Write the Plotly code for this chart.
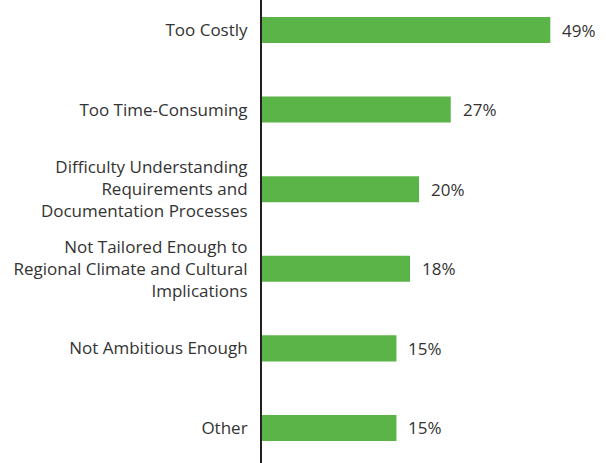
import plotly.graph_objects as go

categories = [
    "Too Costly",
    "Too Time-Consuming",
    "Difficulty Understanding<br>Requirements and<br>Documentation Processes",
    "Not Tailored Enough to<br>Regional Climate and Cultural<br>Implications",
    "Not Ambitious Enough",
    "Other",
]
values = [49, 27, 20, 18, 15, 15]
value_labels = ["49%", "27%", "20%", "18%", "15%", "15%"]

AXIS_START = -14.7
AXIS_END = 61.3
BAR_COLOR = "#5BB447"
TEXT_COLOR = "#333333"
FONT = "Open Sans, Arial, sans-serif"

fig = go.Figure()
fig.add_trace(go.Bar(
    y=categories,
    x=[v - AXIS_START for v in values],
    base=AXIS_START,
    orientation="h",
    marker=dict(color=BAR_COLOR, line=dict(width=0)),
    hoverinfo="skip",
))

for cat, v, lab in zip(categories, values, value_labels):
    fig.add_annotation(
        x=v, y=cat, text=lab, showarrow=False,
        xanchor="left", yanchor="middle", xshift=10,
        font=dict(family=FONT, size=17, color=TEXT_COLOR),
    )

fig.update_layout(
    width=606, height=463,
    margin=dict(l=262, r=0, t=0, b=0, pad=0),
    paper_bgcolor="white", plot_bgcolor="white",
    bargap=0.673,
    showlegend=False,
    font=dict(family=FONT, size=17, color=TEXT_COLOR),
    xaxis=dict(range=[AXIS_START, AXIS_END], showgrid=False, zeroline=False,
               showticklabels=False, showline=False, ticks=""),
    yaxis=dict(type="category", categoryorder="array", categoryarray=categories,
               range=[5.44, -0.377], showgrid=False, zeroline=False,
               showline=True, linewidth=2, linecolor="#231F20",
               ticks="", ticklabelstandoff=9,
               tickfont=dict(family=FONT, size=17, color=TEXT_COLOR)),
)

fig.write_html("out.html", config={"displayModeBar": False},
               post_script="document.body.style.margin='0';")
